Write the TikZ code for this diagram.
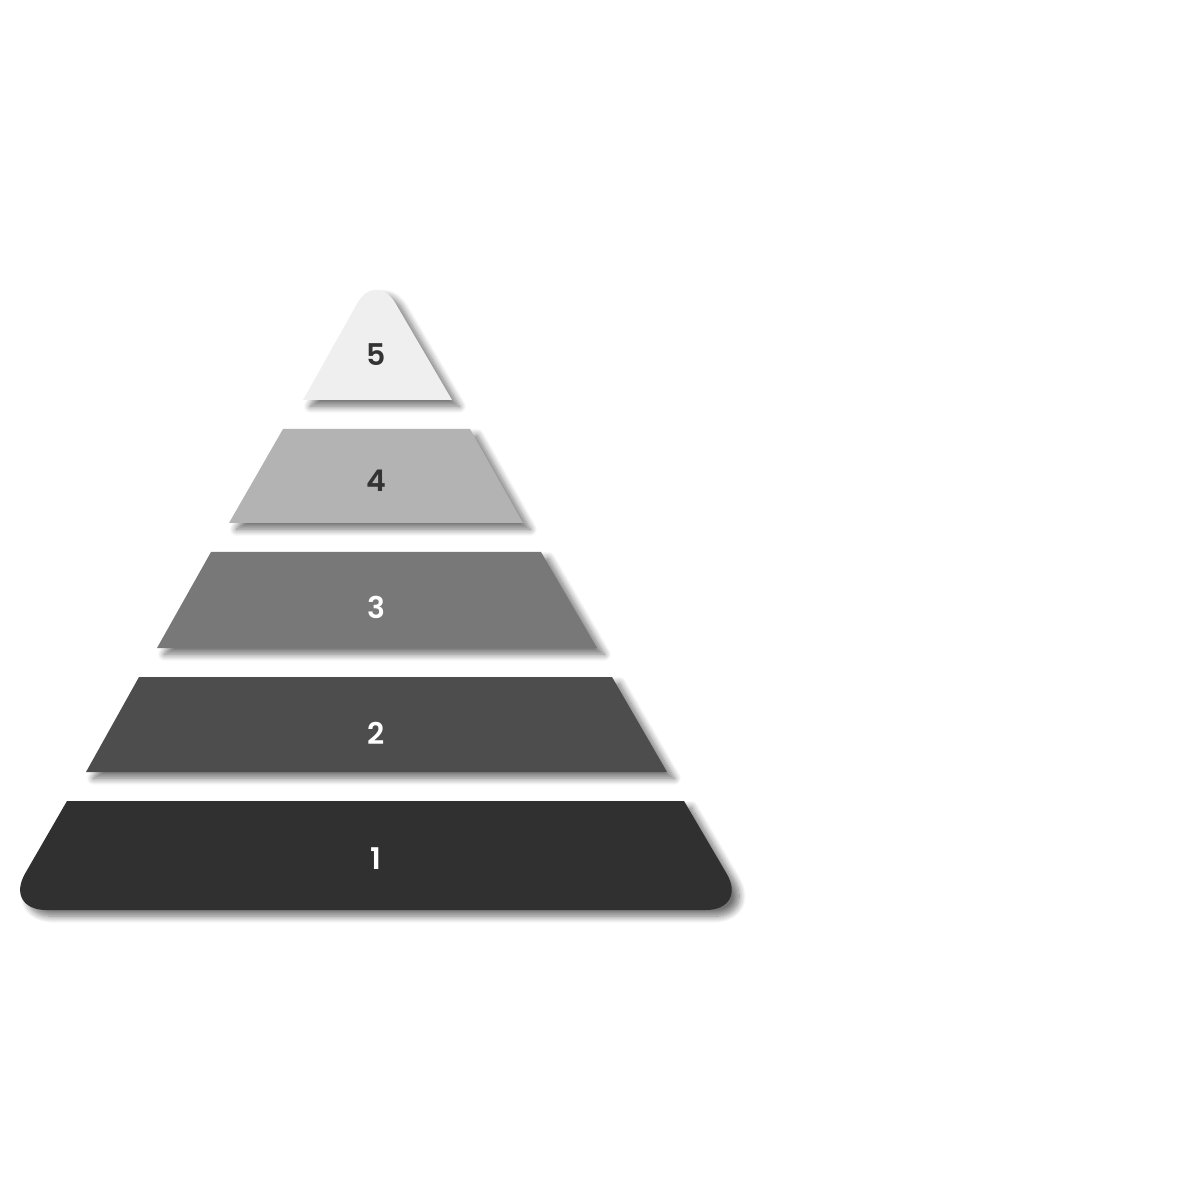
\documentclass[tikz,border=0pt]{standalone}
\usepackage{fontspec}
\setmainfont{Poppins}[BoldFont={Poppins SemiBold}]
\usepackage{xcolor}
\usetikzlibrary{shadows.blur}

\definecolor{levelone}{HTML}{303030}
\definecolor{leveltwo}{HTML}{4D4D4D}
\definecolor{levelthree}{HTML}{787878}
\definecolor{levelfour}{HTML}{B3B3B3}
\definecolor{levelfive}{HTML}{EFEFEF}
\definecolor{darktext}{HTML}{333333}

\tikzset{
  level/.style={blur shadow={shadow xshift=2.1pt, shadow yshift=-1.8pt, shadow opacity=55, shadow blur steps=10, shadow blur radius=1.9pt}},
  levelnum/.style={font=\fontsize{8.5}{10}\selectfont\bfseries}
}

\begin{document}
\begin{tikzpicture}[x=0.01cm, y=-0.01cm]
    \useasboundingbox (0,0) rectangle (1200,1201);
    \fill[levelone, level] (67,801) -- (684,801) [rounded corners=12pt] -- (748,910) -- (4,910) [sharp corners] -- cycle;
    \fill[leveltwo, level] (139,677) -- (612,677) -- (667,772) -- (86,772) -- cycle;
    \fill[levelthree, level] (211,552) -- (541,552) -- (597,648) -- (157,648) -- cycle;
    \fill[levelfour, level] (283,429) -- (470,429) -- (523,523) -- (229,523) -- cycle;
    \fill[levelfive, level] (303,400) [rounded corners=11pt] -- (376,270) [sharp corners] -- (452,400) -- cycle;
    \node[levelnum, white] (one) at (376,859) {1};
    \node[levelnum, white] (two) at (376,733) {2};
    \node[levelnum, white] (three) at (376,607) {3};
    \node[levelnum, darktext] (four) at (376,481) {4};
    \node[levelnum, darktext] (five) at (376,355) {5};
\end{tikzpicture}
\end{document}
